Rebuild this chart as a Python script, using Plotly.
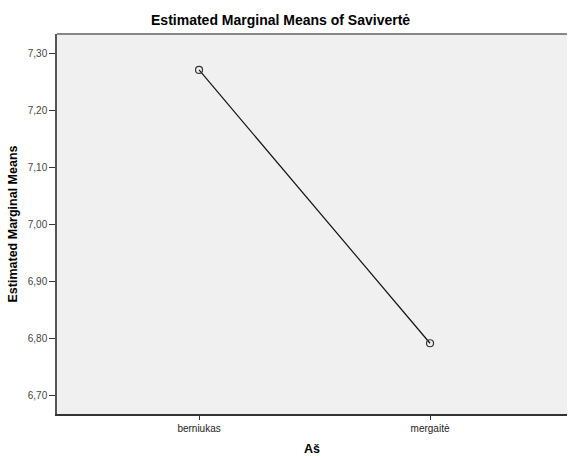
import plotly.graph_objects as go

categories = ["berniukas", "mergaitė"]
means = [7.271, 6.792]
y_tickvals = [6.70, 6.80, 6.90, 7.00, 7.10, 7.20, 7.30]
y_ticktext = ["6,70", "6,80", "6,90", "7,00", "7,10", "7,20", "7,30"]

fig = go.Figure()
fig.add_trace(go.Scatter(
    x=[0, 1], y=means, mode="lines+markers",
    line=dict(color="#111111", width=1.2),
    marker=dict(symbol="circle-open", size=7, color="#333333", line=dict(width=1.2)),
    showlegend=False,
))

font = "Liberation Sans, Arial, sans-serif"
fig.update_layout(
    width=568, height=456,
    margin=dict(l=57, r=1, t=34, b=42),
    paper_bgcolor="white", plot_bgcolor="#f0f0f0",
    font=dict(family=font, color="#000000"),
    title=dict(text="<b>Estimated Marginal Means of Savivertė</b>", x=0.494, xanchor="center",
               y=0.957, yanchor="middle", font=dict(size=14, family=font)),
)
fig.update_xaxes(
    range=[-0.615, 1.593], tickvals=[0, 1], ticktext=categories,
    showgrid=False, zeroline=False,
    showline=True, linecolor="#333333", linewidth=1.5, mirror=False,
    ticks="outside", ticklen=4, tickcolor="#333333", tickwidth=1,
    tickfont=dict(size=10, color="#222222"),
    title=dict(text="<b>Aš</b>", font=dict(size=12.5), standoff=11),
)
fig.update_yaxes(
    range=[6.668, 7.334], tickvals=y_tickvals, ticktext=y_ticktext,
    showgrid=False, zeroline=False,
    showline=True, linecolor="#555555", linewidth=1.5,
    ticks="outside", ticklen=6, tickcolor="#333333", tickwidth=1,
    tickfont=dict(size=10, color="#444444"),
    title=dict(text="<b>Estimated Marginal Means</b>", font=dict(size=12.5), standoff=7),
)
fig.add_shape(type="line", xref="paper", yref="paper", x0=0, x1=1, y0=1, y1=1,
              line=dict(color="#888888", width=2))

fig.write_html(
    "out.html",
    config={"displayModeBar": False},
    post_script="document.body.style.margin='0';document.body.style.overflow='hidden';",
)
